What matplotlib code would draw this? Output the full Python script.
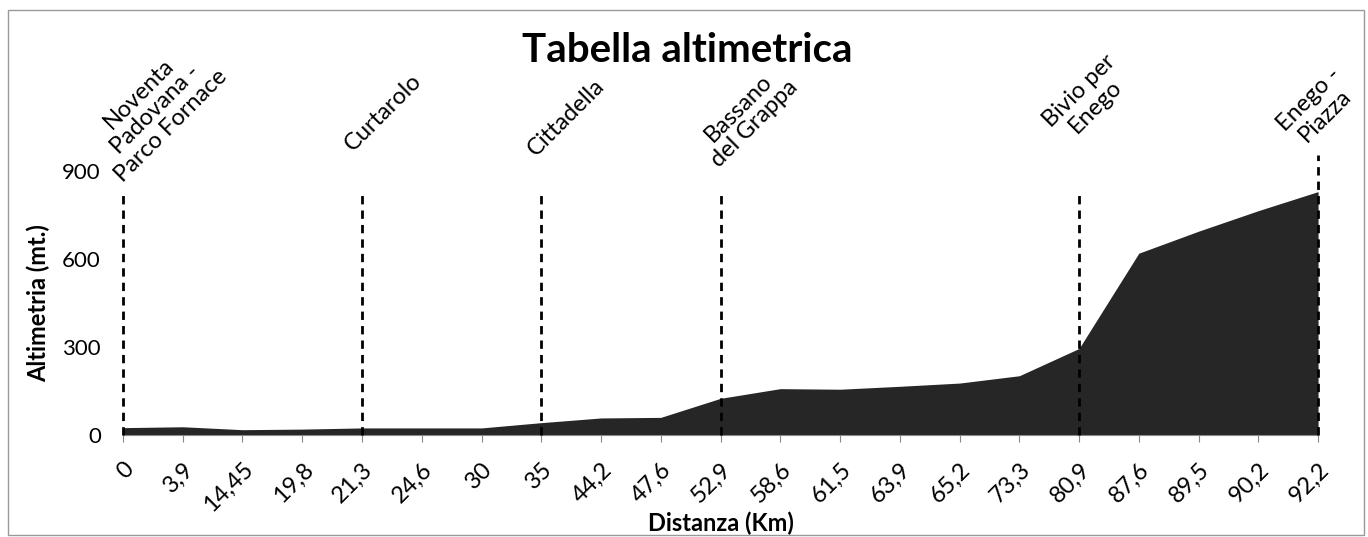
import numpy as np
import matplotlib.pyplot as plt
from matplotlib.patches import Rectangle

plt.rcParams['font.family'] = ['Lato', 'DejaVu Sans']

# distance labels (km) - categories on the x axis
distanze = ['0', '3,9', '14,45', '19,8', '21,3', '24,6', '30', '35', '44,2', '47,6',
            '52,9', '58,6', '61,5', '63,9', '65,2', '73,3', '80,9', '87,6', '89,5',
            '90,2', '92,2']
# altitude (m)
altimetria = [25, 28, 18, 20, 24, 24, 24, 42, 58, 60,
              125, 158, 156, 166, 177, 202, 295, 620, 695, 765, 830]

# towns along the route
localita = ['Noventa\nPadovana -\nParco Fornace', 'Curtarolo', 'Cittadella',
            'Bassano\ndel Grappa', 'Bivio per\nEnego', 'Enego -\nPiazza']
localita_idx = [0, 4, 7, 10, 16, 20]
linea_top = [835, 835, 835, 835, 835, 955]

# label anchor offsets (category units, metres)
lab_dx = [0.05, -0.1, -0.05, 0.02, -0.15, -0.23]
lab_y = [849, 955, 938, 900, 982, 968]

fig = plt.figure(figsize=(13.68, 5.37), dpi=100)
ax = fig.add_axes([0.0899, 0.19, 0.8736, 0.546])

x = np.arange(len(distanze))
ax.fill_between(x, 0, altimetria, color='#262626', linewidth=0, zorder=2)

for i, idx in enumerate(localita_idx):
    ax.plot([idx, idx], [0, linea_top[i]], color='black', lw=2.0,
            linestyle=(0, (3, 2.2)), zorder=3, clip_on=False)
    ax.text(idx + lab_dx[i], lab_y[i], localita[i], rotation=45,
            rotation_mode='anchor', ha='left', va='bottom',
            multialignment='center', fontsize=17, linespacing=1.1,
            clip_on=False)

ax.set_xlim(0, len(distanze) - 1)
ax.set_ylim(0, 1000)
ax.set_yticks([0, 300, 600, 900])
ax.set_xticks(x)
ax.set_xticklabels(distanze, rotation=45, ha='right', rotation_mode='anchor',
                   fontsize=17)
ax.tick_params(axis='y', length=0, labelsize=16, pad=16)
ax.tick_params(axis='x', length=5, color='#888888', pad=12)

for s in ['top', 'right', 'left']:
    ax.spines[s].set_visible(False)
ax.spines['bottom'].set_color('#888888')

ax.set_title('Tabella altimetrica', fontsize=29, fontweight='bold', x=0.472, y=1.245)
ax.set_xlabel('Distanza (Km)', fontsize=17, fontweight='bold')
ax.xaxis.set_label_coords(0.5, -0.262)
ax.set_ylabel('Altimetria (mt.)', fontsize=17, fontweight='bold')
ax.yaxis.set_label_coords(-0.061, 0.45)

fig.patches.append(Rectangle((0.006, 0.004), 0.991, 0.978, transform=fig.transFigure,
                             fill=False, edgecolor='#999999', lw=1))

fig.savefig('out.png', dpi=100)
